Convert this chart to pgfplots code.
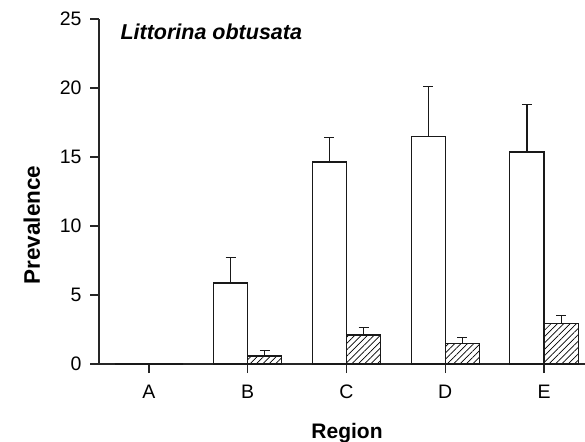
\documentclass[border=0pt]{standalone}
\usepackage{pgfplots}
\pgfplotsset{compat=1.18}
\usepackage{fontspec}
\setmainfont{Liberation Sans}
\usetikzlibrary{patterns.meta,calc}

\begin{document}
\begin{tikzpicture}
\begin{axis}[
  scale only axis, width=486bp, height=345bp,
  xmin=-0.506, xmax=4.415, ymin=0, ymax=25,
  ybar=0pt, bar width=0.345,
  axis lines=left,
  axis line style={-, line width=1.3bp, black!85},
  xtick={0,1,2,3,4}, xticklabels={A,B,C,D,E},
  ytick={0,5,...,25},
  tick align=outside, major tick length=9bp,
  tick style={line width=1.3bp, black!85},
  ticklabel style={font=\fontsize{19.5bp}{22bp}\selectfont},
  yticklabel style={xshift=-5bp},
  xticklabel style={yshift=-8bp, text height=14bp, text depth=0pt},
  /pgf/number format/assume math mode=true,
  clip=false,
]
  % infected snails (open bars)
  \addplot[fill=white, draw=black!90, line width=1.1bp,
    error bars/.cd, y dir=plus, y explicit,
    error bar style={line width=1.1bp, black!90},
    error mark options={rotate=90, mark size=5bp, line width=1.1bp, black!90}]
    coordinates {
      (0,0)     +- (0,0)
      (1,5.87)  +- (0,1.83)
      (2,14.64) +- (0,1.76)
      (3,16.5)  +- (0,3.6)
      (4,15.36) +- (0,3.44)
    };
  % hatched bars
  \addplot[pattern={Lines[angle=45, distance=4.5bp, line width=0.7bp]},
    draw=black!90, line width=1.1bp,
    error bars/.cd, y dir=plus, y explicit,
    error bar style={line width=1.1bp, black!90},
    error mark options={rotate=90, mark size=5bp, line width=1.1bp, black!90}]
    coordinates {
      (0,0)    +- (0,0)
      (1,0.58) +- (0,0.38)
      (2,2.1)  +- (0,0.56)
      (3,1.47) +- (0,0.46)
      (4,2.95) +- (0,0.58)
    };
  \coordinate (O) at (rel axis cs:0,0);
\end{axis}
\node[anchor=base west, font=\bfseries\itshape\fontsize{21.5bp}{24bp}\selectfont]
  at ($(O)+(18bp,324bp)$) {Littorina obtusata};
\node[anchor=base, font=\bfseries\fontsize{21bp}{24bp}\selectfont]
  at ($(O)+(248bp,-74bp)$) {Region};
\node[anchor=base, rotate=90, font=\bfseries\fontsize{22.5bp}{25bp}\selectfont]
  at ($(O)+(-59bp,139bp)$) {Prevalence};
\pgfresetboundingbox
\path ($(O)+(-99bp,-78bp)$) rectangle ($(O)+(486bp,364bp)$);
\end{tikzpicture}
\end{document}
